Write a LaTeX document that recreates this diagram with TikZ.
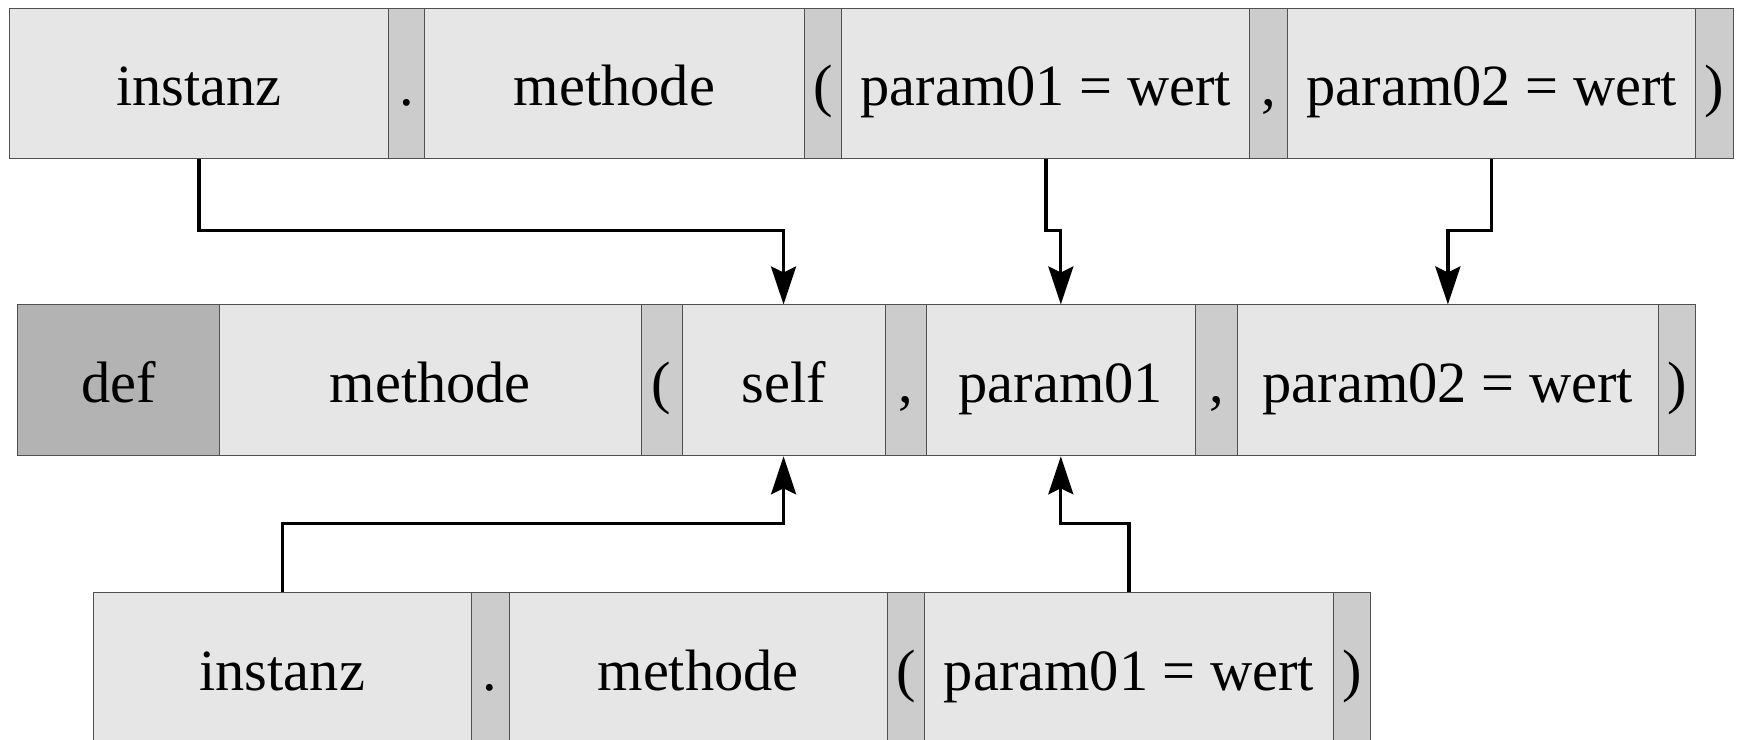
\documentclass[tikz,border=0pt]{standalone}
\usepackage{fontspec}
\setmainfont{Liberation Serif}
\usetikzlibrary{arrows.meta}
\definecolor{cellfill}{RGB}{230,230,230}
\definecolor{sepfill}{RGB}{204,204,204}
\definecolor{kwfill}{RGB}{179,179,179}
\definecolor{cellline}{RGB}{80,80,80}
\tikzset{
 cell/.style={draw=cellline, line width=0.5pt, fill=cellfill, inner sep=0pt,
   text height=24pt, text depth=2.4pt, font=\fontsize{29.2}{35}\selectfont},
 sepcell/.style={cell, fill=sepfill},
 kwcell/.style={cell, fill=kwfill},
 conn/.style={line width=1.65pt, -{Stealth[length=19pt, width=12.5pt, inset=3pt]}}
}
\newcommand{\cellnode}[7]{\node[#1, minimum width={(#4-#3)*0.55453pt}, minimum height={(#6-#5)*0.55453pt}] (#2) at ({(#3+#4)/2},{(#5+#6)/2}) {#7};}
\begin{document}
\begin{tikzpicture}[x=0.55453pt, y=-0.55453pt]
\useasboundingbox (0,0) rectangle (1568,667);
% top row
\cellnode{cell}{t_inst}{9}{350}{8}{143}{instanz}
\cellnode{sepcell}{t_dot}{350}{383}{8}{143}{.}
\cellnode{cell}{t_meth}{383}{725}{8}{143}{methode}
\cellnode{sepcell}{t_lp}{725}{759}{8}{143}{(}
\cellnode{cell}{t_p1}{759}{1127}{8}{143}{param01 = wert}
\cellnode{sepcell}{t_c}{1127}{1161}{8}{143}{,}
\cellnode{cell}{t_p2}{1161}{1529}{8}{143}{param02 = wert}
\cellnode{sepcell}{t_rp}{1529}{1563}{8}{143}{)}
% middle row
\cellnode{kwcell}{m_def}{16}{198}{275}{411}{def}
\cellnode{cell}{m_meth}{198}{578}{275}{411}{methode}
\cellnode{sepcell}{m_lp}{578}{615}{275}{411}{(}
\cellnode{cell}{m_self}{615}{798}{275}{411}{self}
\cellnode{sepcell}{m_c1}{798}{835}{275}{411}{,}
\cellnode{cell}{m_p1}{835}{1078}{275}{411}{param01}
\cellnode{sepcell}{m_c2}{1078}{1116}{275}{411}{,}
\cellnode{cell}{m_p2}{1116}{1495}{275}{411}{param02 = wert}
\cellnode{sepcell}{m_rp}{1495}{1529}{275}{411}{)}
% bottom row
\cellnode{cell}{b_inst}{84}{425}{534}{672}{instanz}
\cellnode{sepcell}{b_dot}{425}{459}{534}{672}{.}
\cellnode{cell}{b_meth}{459}{800}{534}{672}{methode}
\cellnode{sepcell}{b_lp}{800}{834}{534}{672}{(}
\cellnode{cell}{b_p1}{834}{1202}{534}{672}{param01 = wert}
\cellnode{sepcell}{b_rp}{1202}{1236}{534}{672}{)}
% routing levels
\coordinate (yA) at (0,208);
\coordinate (yB) at (0,472);
% connectors
\draw[conn] (t_inst.south) -- (t_inst.south |- yA) -| (m_self.north);
\draw[conn] (t_p1.south) -- (t_p1.south |- yA) -| (m_p1.north);
\draw[conn] (t_p2.south) -- (t_p2.south |- yA) -| (m_p2.north);
\draw[conn] (b_inst.north) -- (b_inst.north |- yB) -| (m_self.south);
\draw[conn] (b_p1.north) -- (b_p1.north |- yB) -| (m_p1.south);
\end{tikzpicture}
\end{document}
